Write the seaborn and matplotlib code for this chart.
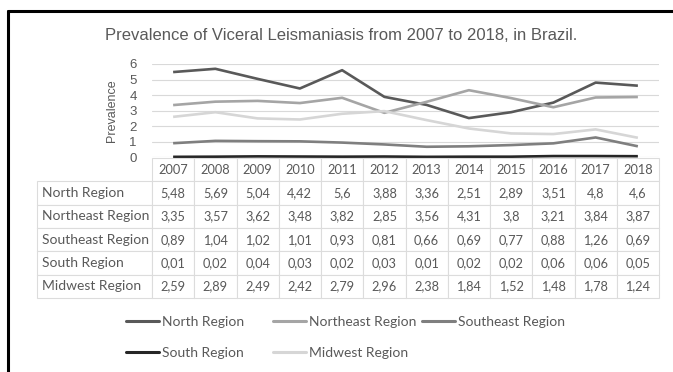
import pandas as pd
import matplotlib.pyplot as plt
import seaborn as sns
from matplotlib.lines import Line2D

# datos
years = [2007, 2008, 2009, 2010, 2011, 2012, 2013, 2014, 2015, 2016, 2017, 2018]
regions = ["North Region", "Northeast Region", "Southeast Region", "South Region", "Midwest Region"]
north = [5.48, 5.69, 5.04, 4.42, 5.6, 3.88, 3.36, 2.51, 2.89, 3.51, 4.8, 4.6]
northeast = [3.35, 3.57, 3.62, 3.48, 3.82, 2.85, 3.56, 4.31, 3.8, 3.21, 3.84, 3.87]
southeast = [0.89, 1.04, 1.02, 1.01, 0.93, 0.81, 0.66, 0.69, 0.77, 0.88, 1.26, 0.69]
south = [0.01, 0.02, 0.04, 0.03, 0.02, 0.03, 0.01, 0.02, 0.02, 0.06, 0.06, 0.05]
midwest = [2.59, 2.89, 2.49, 2.42, 2.79, 2.96, 2.38, 1.84, 1.52, 1.48, 1.78, 1.24]
y_ticks = [0, 1, 2, 3, 4, 5, 6]

colores = {
    "North Region": "#595959",
    "Northeast Region": "#a5a5a5",
    "Southeast Region": "#7f7f7f",
    "South Region": "#262626",
    "Midwest Region": "#d6d6d6",
}

W, H = 673, 372
sns.set_style("white")
plt.rcParams["font.family"] = ["Lato", "DejaVu Sans"]

series = [north, northeast, southeast, south, midwest]
df = pd.DataFrame({
    "pos": list(range(len(years))) * len(regions),
    "value": [v for s in series for v in s],
    "region": [r for r in regions for _ in years],
})

fig = plt.figure(figsize=(W / 100, H / 100), dpi=100)

def fx(px):
    return px / W

def fy(px):
    return 1 - px / H

# area de lineas
ax = fig.add_axes([fx(152), fy(157), fx(659 - 152), fy(64) - fy(157)])
sns.lineplot(data=df, x="pos", y="value", hue="region", palette=colores,
             hue_order=regions, linewidth=1.9, ax=ax, legend=False)
for ln in ax.lines:
    ln.set_clip_on(False)
    ln.set_solid_capstyle("butt")
ax.set_xlim(-0.5, len(years) - 0.5)
ax.set_ylim(0, 6)
ax.set_yticks(y_ticks)
ax.set_xticks([])
ax.grid(axis="y", color="#d9d9d9", linewidth=0.8)
ax.set_axisbelow(True)
for sp in ax.spines.values():
    sp.set_visible(False)
ax.tick_params(axis="y", length=0, pad=11, labelsize=9.5, labelcolor="#595959")
for t in ax.get_yticklabels():
    t.set_family(["Liberation Sans Narrow", "Liberation Sans"])
ax.set_xlabel("")
ax.set_ylabel("Prevalence", fontsize=9, color="#595959", labelpad=8,
              family=["Liberation Sans", "DejaVu Sans"])

# titulo
fig.text(fx(341), fy(36), "Prevalence of Viceral Leismaniasis from 2007 to 2018, in Brazil.",
         ha="center", va="center", fontsize=12, color="#595959",
         family=["Liberation Sans Narrow", "Liberation Sans"])

# tabla de datos
tab = fig.add_axes([fx(37), fy(298), fx(659 - 37), fy(158) - fy(298)])
tab.axis("off")
filas = [[r] + [str(v).replace(".", ",") for v in s] for r, s in zip(regions, series)]
ancho_lbl = 115 / 622
ancho_col = (1 - ancho_lbl) / len(years)
tbl = tab.table(cellText=filas, colLabels=[""] + [str(y) for y in years],
                colWidths=[ancho_lbl] + [ancho_col] * len(years),
                bbox=[0, 0, 1, 1], cellLoc="center")
tbl.auto_set_font_size(False)
for (r, c), cell in tbl.get_celld().items():
    cell.set_edgecolor("#dcdcdc")
    cell.set_linewidth(0.8)
    cell.get_text().set_fontsize(10 if c == 0 else 9.2)
    cell.get_text().set_color("#595959")
    if c == 0:
        cell.get_text().set_ha("left")
        cell.PAD = 0.04
    if r == 0 and c == 0:
        cell.visible_edges = ""

# leyenda en tres columnas como en Excel
handles = {r: Line2D([], [], color=colores[r], linewidth=2.2) for r in regions}
grupos = [(126, ["North Region", "South Region"]),
          (273, ["Northeast Region", "Midwest Region"]),
          (422, ["Southeast Region"])]
for x0, labs in grupos:
    leg = fig.legend([handles[l] for l in labs], labs, loc="upper left",
                     bbox_to_anchor=(fx(x0), fy(316)), frameon=False,
                     fontsize=10, handlelength=2.4, handletextpad=0.2,
                     labelspacing=1.35, borderpad=0, borderaxespad=0)
    for t in leg.get_texts():
        t.set_color("#595959")

# marco negro
fig.add_artist(Line2D([fx(8), fx(8)], [fy(11), 0], color="black", linewidth=2.2))
fig.add_artist(Line2D([fx(8), 1], [fy(11), fy(11)], color="black", linewidth=2.2))

fig.savefig("out.png", dpi=100)
